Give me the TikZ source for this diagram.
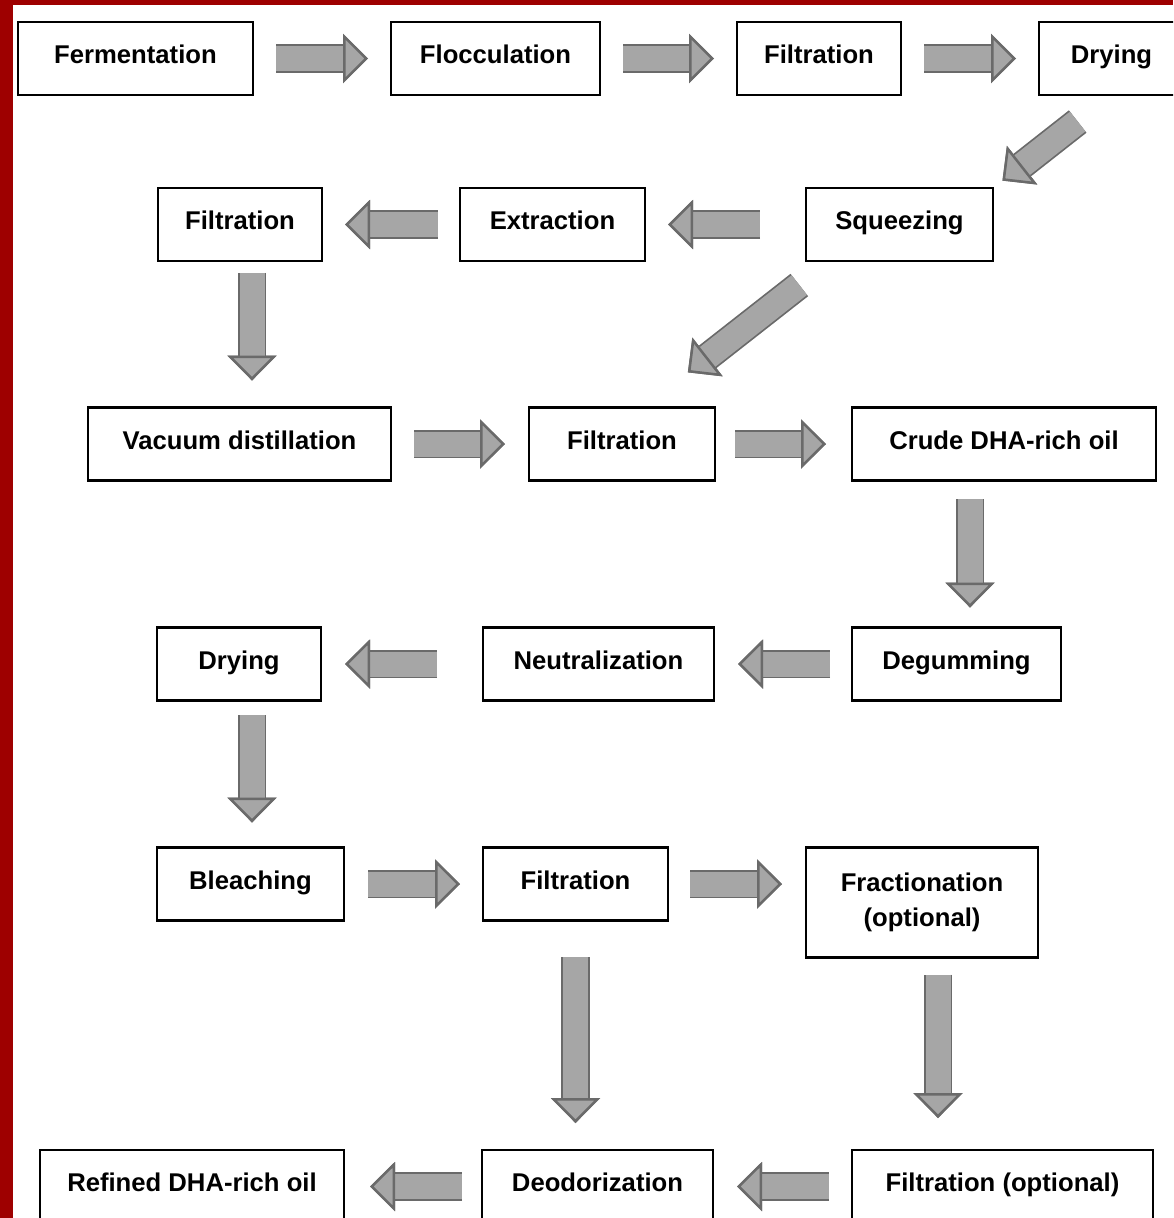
\documentclass[tikz,border=0pt]{standalone}
\usepackage{fontspec}
\setmainfont{Liberation Sans}
\usetikzlibrary{positioning, arrows.meta}
\definecolor{framered}{HTML}{9E0000}
\definecolor{arrgray}{HTML}{A6A6A6}
\definecolor{arredge}{HTML}{6A6A6A}

\begin{document}
\begin{tikzpicture}[
    node distance=0.3cm and 2.76cm,
    box/.style={draw=black, line width=1.2pt, fill=white, font=\fontsize{14.6pt}{20pt}\selectfont\bfseries, inner xsep=0pt, inner ysep=0pt, outer sep=0pt},
    procbox/.style={box, text height=23.7pt, text depth=17.8pt},
    fat/.style={draw=arrgray, line width=0.5cm, shorten <=0.46cm, shorten >=0.46cm,
      -{Triangle[length=0.5cm, width=0.98cm, line width=0.05cm, color=arredge, fill=arrgray]},
      preaction={draw=arredge, line width=0.57cm, -{Triangle[length=0.5cm, width=0.98cm, line width=0pt, color=arredge]}}}
  ]
    \path[use as bounding box] (0,0) rectangle (23.46,-24.36);
    \clip (0,0) rectangle (23.46,-24.36);

    % row 1
    \node[procbox, minimum width=4.70cm] (ferm) at (2.71,-1.17) {Fermentation};
    \node[procbox, minimum width=4.18cm, right=of ferm] (flocc) {Flocculation};
    \node[procbox, minimum width=3.28cm, right=2.74cm of flocc] (filt1) {Filtration};
    \node[procbox, minimum width=2.90cm, right=of filt1] (dry1) {Drying};
    % row 2
    \node[procbox, minimum width=3.74cm] (squeez) at (17.99,-4.49) {Squeezing};
    \node[procbox, minimum width=3.70cm, left=3.22cm of squeez] (extr) {Extraction};
    \node[procbox, minimum width=3.28cm, left=of extr] (filt2) {Filtration};
    % row 3
    \node[procbox, minimum width=6.06cm] (vac) at (4.79,-8.88) {Vacuum distillation};
    \node[procbox, minimum width=3.72cm, right=of vac] (filt3) {Filtration};
    \node[procbox, minimum width=6.08cm, right=2.74cm of filt3] (crude) {Crude DHA-rich oil};
    % row 4
    \node[procbox, minimum width=3.28cm] (dry4) at (4.78,-13.28) {Drying};
    \node[procbox, minimum width=4.62cm, right=3.24cm of dry4] (neut) {Neutralization};
    \node[procbox, minimum width=4.18cm, right=of neut] (degum) {Degumming};
    % row 5
    \node[procbox, minimum width=3.74cm] (bleach) at (5.01,-17.68) {Bleaching};
    \node[procbox, minimum width=3.70cm, right=2.78cm of bleach] (filt5) {Filtration};
    \node[box, minimum width=4.64cm, minimum height=2.2cm, align=center, right=of filt5.north east, anchor=north west] (frac) {Fractionation\\(optional)};
    % row 6
    \node[procbox, minimum width=6.08cm] (refined) at (3.84,-23.73) {Refined DHA-rich oil};
    \node[procbox, minimum width=4.62cm, right=of refined] (deod) {Deodorization};
    \node[procbox, minimum width=6.02cm, right=2.78cm of deod] (filtopt) {Filtration (optional)};

    \draw[fat] (ferm) -- (flocc);
    \draw[fat] (flocc) -- (filt1);
    \draw[fat] (filt1) -- (dry1);
    \draw[fat, shorten <=0.86cm, shorten >=0.24cm] (dry1.south) -- (squeez.north east);
    \draw[fat, shorten <=0.92cm] (squeez) -- (extr);
    \draw[fat, shorten <=0.44cm] (extr) -- (filt2);
    \draw[fat, shorten <=0.24cm, shorten >=0.54cm] ([xshift=0.24cm]filt2.south) -- ([xshift=0.24cm]filt2.south |- vac.north);
    \draw[fat, shorten <=0.78cm, shorten >=1.14cm] ([xshift=0.48cm]squeez.south west) -- ([xshift=0.42cm]filt3.north);
    \draw[fat, shorten >=0.48cm] (vac) -- (filt3);
    \draw[fat, shorten <=0.40cm, shorten >=0.52cm] (filt3) -- (crude);
    \draw[fat, shorten <=0.38cm, shorten >=0.40cm] ([xshift=-0.68cm]crude.south) -- ([xshift=-0.68cm]crude.south |- degum.north);
    \draw[fat, shorten <=0.44cm, shorten >=0.48cm] (degum) -- (neut);
    \draw[fat, shorten <=0.92cm, shorten >=0.48cm] (neut) -- (dry4);
    \draw[fat, shorten <=0.30cm, shorten >=0.50cm] ([xshift=0.26cm]dry4.south) -- ([xshift=0.26cm]dry4.south |- bleach.north);
    \draw[fat, shorten <=0.48cm] (bleach) -- (filt5);
    \draw[fat, shorten <=0.44cm, shorten >=0.48cm] (filt5.east) -- (filt5.east -| frac.west);
    \draw[fat, shorten <=0.74cm, shorten >=0.54cm] (filt5.south) -- (filt5.south |- deod.north);
    \draw[fat, shorten <=0.34cm, shorten >=0.64cm] ([xshift=0.32cm]frac.south) -- ([xshift=0.32cm]frac.south |- filtopt.north);
    \draw[fat, shorten <=0.40cm, shorten >=0.52cm] (deod) -- (refined);
    \draw[fat, shorten >=0.48cm] (filtopt) -- (deod);

    % frame edges
    \fill[framered] (0,0) rectangle (0.26,-24.36);
    \fill[framered] (0,0) rectangle (23.46,-0.1);
  \end{tikzpicture}
\end{document}
